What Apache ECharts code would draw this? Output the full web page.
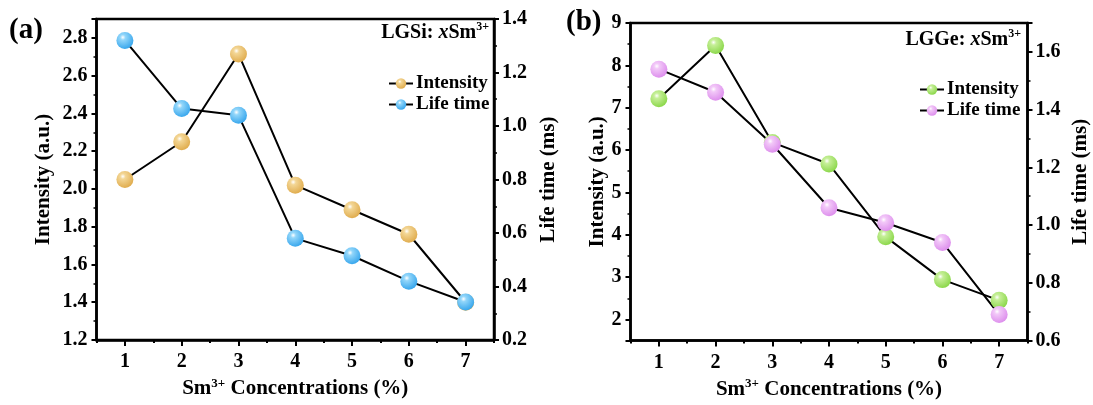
<!DOCTYPE html>
<html>
<head>
<meta charset="utf-8">
<script src="https://cdn.jsdelivr.net/npm/echarts@6/dist/echarts.min.js"></script>
<style>
  html, body { margin: 0; padding: 0; background: #fff; }
  #chart { width: 1093px; height: 405px; }
</style>
</head>
<body>
<div id="chart"></div>
<script>
// Sm3+ concentration (%) on the x axis
const concentrations = ['1', '2', '3', '4', '5', '6', '7'];

// (a) LGSi: xSm3+
const lgsiIntensity = [2.05, 2.25, 2.715, 2.02, 1.89, 1.76, 1.40];
const lgsiLifetime = [1.32, 1.065, 1.04, 0.58, 0.515, 0.42, 0.342];

// (b) LGGe: xSm3+
const lggeIntensity = [7.21, 8.47, 6.18, 5.67, 3.95, 2.94, 2.45];
const lggeLifetime = [1.54, 1.46, 1.28, 1.06, 1.008, 0.94, 0.69];

const FONT = 'Liberation Serif';
const BLACK = '#000';
const TICK_FS = 20;
const NAME_FS = 21;

function sphere(base, light) {
  return {
    type: 'radial', x: 0.38, y: 0.32, r: 0.72,
    colorStops: [
      { offset: 0, color: '#ffffff' },
      { offset: 0.22, color: light },
      { offset: 1, color: base }
    ]
  };
}

const richName = {
  b: { fontFamily: FONT, fontWeight: 'bold', fontSize: NAME_FS, color: BLACK, lineHeight: 24 },
  s: { fontFamily: FONT, fontWeight: 'bold', fontSize: 13, color: BLACK, lineHeight: 14, verticalAlign: 'top' }
};

function xMain(grid) {
  return {
    type: 'category', gridIndex: grid, data: concentrations, position: 'bottom',
    boundaryGap: true,
    axisLine: { show: true, lineStyle: { color: BLACK, width: 2.5 } },
    axisTick: { show: true, alignWithLabel: true, inside: false, length: 6, lineStyle: { color: BLACK, width: 2 } },
    axisLabel: { margin: 12, fontFamily: FONT, fontWeight: 'bold', fontSize: TICK_FS, color: BLACK },
    splitLine: { show: false },
    name: '{b|Sm}{s|3+}{b| Concentrations (%)}',
    nameLocation: 'middle', nameGap: grid === 0 ? 33 : 35,
    nameTextStyle: { rich: richName }
  };
}

function xMinor(grid) {
  return {
    type: 'category', gridIndex: grid, data: concentrations, position: 'bottom',
    boundaryGap: true,
    axisLine: { show: false },
    axisTick: { show: true, alignWithLabel: false, inside: false, length: 3, lineStyle: { color: BLACK, width: 2 } },
    axisLabel: { show: false },
    splitLine: { show: false }
  };
}

function yAxis(grid, pos, opts) {
  return Object.assign({
    type: 'value', gridIndex: grid, position: pos,
    axisLine: { show: true, onZero: false, lineStyle: { color: BLACK, width: 2.5 } },
    axisTick: { show: true, inside: false, length: 5, lineStyle: { color: BLACK, width: 2 } },
    minorTick: { show: true, splitNumber: 2, length: 3, lineStyle: { color: BLACK, width: 1.5 } },
    splitLine: { show: false },
    nameLocation: 'middle',
    nameTextStyle: { fontFamily: FONT, fontWeight: 'bold', fontSize: NAME_FS, color: BLACK }
  }, opts);
}

const labelStyle = (margin, fmt, extra) => Object.assign({
  margin: margin, fontFamily: FONT, fontWeight: 'bold', fontSize: TICK_FS, color: BLACK,
  formatter: fmt
}, extra || {});

function lineSeries(name, x, y, data, base, light) {
  return {
    name: name, type: 'line', xAxisIndex: x, yAxisIndex: y, data: data,
    symbol: 'circle', symbolSize: 17,
    lineStyle: { color: BLACK, width: 2 },
    itemStyle: { color: sphere(base, light) },
    emphasis: { disabled: true },
    animation: false
  };
}

const titleRich = {
  b: { fontFamily: FONT, fontWeight: 'bold', fontSize: 20, color: BLACK, lineHeight: 24 },
  i: { fontFamily: FONT, fontWeight: 'bold', fontStyle: 'italic', fontSize: 20, color: BLACK, lineHeight: 24 },
  s: { fontFamily: FONT, fontWeight: 'bold', fontSize: 12, color: BLACK, lineHeight: 13, verticalAlign: 'top' }
};

const legendText = { fontFamily: FONT, fontWeight: 'bold', fontSize: 19, color: BLACK, padding: [0, 0, 0, -2] };

const chart = echarts.init(document.getElementById('chart'), null, { renderer: 'canvas' });

chart.setOption({
  backgroundColor: '#fff',
  animation: false,
  grid: [
    { left: 96.5, top: 19, width: 397.5, height: 321, show: true, borderColor: BLACK, borderWidth: 2.5, containLabel: false },
    { left: 630.5, top: 23, width: 397, height: 322, show: true, borderColor: BLACK, borderWidth: 2.5, containLabel: false }
  ],
  xAxis: [xMain(0), xMinor(0), xMain(1), xMinor(1)],
  yAxis: [
    yAxis(0, 'left', {
      min: 1.2, max: 2.9, interval: 0.2,
      name: 'Intensity (a.u.)', nameGap: 42,
      axisLabel: labelStyle(9, v => v.toFixed(1), { showMaxLabel: false })
    }),
    yAxis(0, 'right', {
      min: 0.2, max: 1.4, interval: 0.2,
      name: 'Life time (ms)', nameGap: 44,
      axisLabel: labelStyle(8, v => v.toFixed(1))
    }),
    yAxis(1, 'left', {
      min: 1.5, max: 9, splitNumber: 8,
      name: 'Intensity (a.u.)', nameGap: 21,
      axisLabel: labelStyle(9, v => (Math.abs(v - Math.round(v)) < 1e-6 ? String(Math.round(v)) : ''), { showMinLabel: false })
    }),
    yAxis(1, 'right', {
      min: 0.6, max: 1.7, interval: 0.2,
      name: 'Life time (ms)', nameGap: 43,
      axisLabel: labelStyle(8, v => v.toFixed(1), { showMaxLabel: false })
    })
  ],
  legend: [
    {
      orient: 'vertical', left: 383, top: 69, itemGap: 2, itemWidth: 24, itemHeight: 13,
      data: ['LGSi Intensity', 'LGSi Life time'],
      formatter: n => n.replace('LGSi ', ''),
      selectedMode: false,
      textStyle: legendText
    },
    {
      orient: 'vertical', left: 914, top: 75, itemGap: 2, itemWidth: 24, itemHeight: 13,
      data: ['LGGe Intensity', 'LGGe Life time'],
      formatter: n => n.replace('LGGe ', ''),
      selectedMode: false,
      textStyle: legendText
    }
  ],
  series: [
    lineSeries('LGSi Intensity', 0, 0, lgsiIntensity, '#DFAA4A', '#F3D695'),
    lineSeries('LGSi Life time', 0, 1, lgsiLifetime, '#33A4EC', '#92D6FA'),
    lineSeries('LGGe Intensity', 2, 2, lggeIntensity, '#88D646', '#C6EF98'),
    lineSeries('LGGe Life time', 2, 3, lggeLifetime, '#DC8BEC', '#F2C8F8')
  ],
  graphic: [
    { type: 'text', left: 9, top: 16, style: { text: '(a)', fontFamily: FONT, fontWeight: 'bold', fontSize: 29, fill: BLACK } },
    { type: 'text', left: 566, top: 8, style: { text: '(b)', fontFamily: FONT, fontWeight: 'bold', fontSize: 29, fill: BLACK } },
    { type: 'text', right: 604, top: 21, style: { text: '{b|LGSi: }{i|x}{b|Sm}{s|3+}', rich: titleRich } },
    { type: 'text', right: 72, top: 28, style: { text: '{b|LGGe: }{i|x}{b|Sm}{s|3+}', rich: titleRich } }
  ]
});
</script>
</body>
</html>
